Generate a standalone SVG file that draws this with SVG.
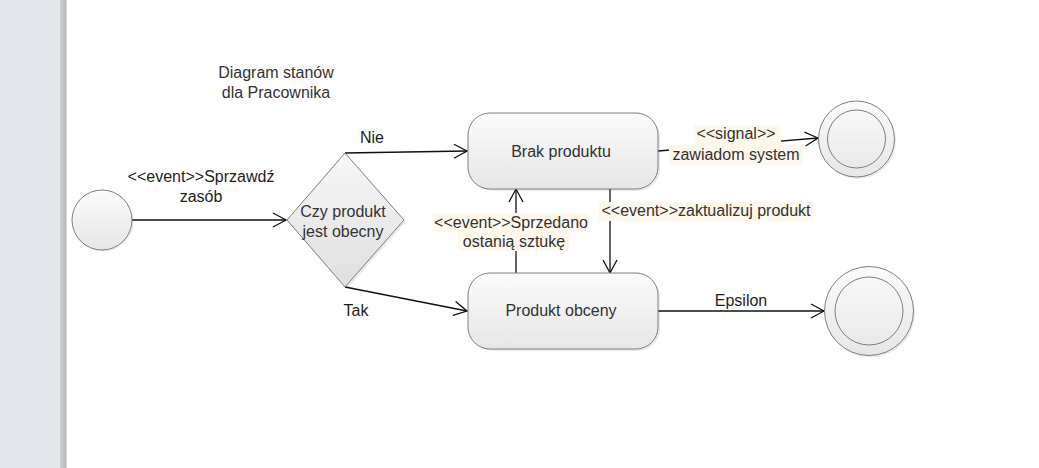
<svg xmlns="http://www.w3.org/2000/svg" width="1039" height="468" viewBox="0 0 1039 468">
<style>
  .t{font-family:"Liberation Sans",Arial,sans-serif;font-size:16px;fill:#333;text-anchor:middle}
  .el{font-family:"Liberation Sans",Arial,sans-serif;font-size:16px;fill:#1e1e1e;text-anchor:middle}
  .node{fill:url(#g);stroke:#7f7f7f;stroke-width:1}
  .shadow{fill:#000;opacity:0.08}
  .edge{fill:none;stroke:#111;stroke-width:1.3}
  .lbg{fill:#fdf7ec}
</style>
<defs>
  <linearGradient id="g" x1="0" y1="0" x2="0" y2="1">
    <stop offset="0" stop-color="#fbfbfb"/>
    <stop offset="1" stop-color="#e6e6e6"/>
  </linearGradient>
  <linearGradient id="gd" x1="0" y1="0" x2="0" y2="1">
    <stop offset="0" stop-color="#f7f7f7"/>
    <stop offset="1" stop-color="#dedede"/>
  </linearGradient>
  <linearGradient id="side" x1="0" y1="0" x2="1" y2="0">
    <stop offset="0" stop-color="#cfd0d4"/>
    <stop offset="0.8" stop-color="#b9babe"/>
    <stop offset="1" stop-color="#e8e8ea"/>
  </linearGradient>
  <marker id="arr" markerWidth="16" markerHeight="16" refX="14" refY="8" orient="auto" markerUnits="userSpaceOnUse">
    <path d="M1,1 L14,8 L1,15" fill="none" stroke="#111" stroke-width="1.3"/>
  </marker>
</defs>
<rect width="1039" height="468" fill="#fff"/>
<rect x="0" y="0" width="60" height="468" fill="#e6e7ec"/>
<rect x="60" y="0" width="7" height="468" fill="url(#side)"/>

<text class="t" x="276" y="78">Diagram stanów</text>
<text class="t" x="276" y="98">dla Pracownika</text>

<g id="connectors">
  <line class="edge" x1="132" y1="220" x2="286" y2="220" marker-end="url(#arr)"/>
  <line class="edge" x1="345" y1="153" x2="467" y2="151" marker-end="url(#arr)"/>
  <line class="edge" x1="345" y1="287" x2="467" y2="311" marker-end="url(#arr)"/>
  <line class="edge" x1="516" y1="273" x2="516" y2="189" marker-end="url(#arr)"/>
  <line class="edge" x1="610" y1="189" x2="610" y2="273" marker-end="url(#arr)"/>
  <line class="edge" x1="658" y1="151" x2="818" y2="138" marker-end="url(#arr)"/>
  <line class="edge" x1="658" y1="311" x2="824" y2="311" marker-end="url(#arr)"/>

  <text class="el" x="201" y="182">&lt;&lt;event&gt;&gt;Sprzawdź</text>
  <text class="el" x="201" y="202">zasób</text>
  <text class="el" x="372" y="143">Nie</text>
  <text class="el" x="356" y="316">Tak</text>
  <text class="el" x="741" y="306">Epsilon</text>

  <rect class="lbg" x="433" y="213" width="157" height="19"/>
  <rect class="lbg" x="458" y="232" width="111" height="19"/>
  <text class="t" x="511" y="228">&lt;&lt;event&gt;&gt;Sprzedano</text>
  <text class="t" x="514" y="247">ostanią sztukę</text>

  <rect class="lbg" x="599" y="202" width="215" height="19"/>
  <text class="t" x="706" y="216">&lt;&lt;event&gt;&gt;zaktualizuj produkt</text>

  <rect class="lbg" x="694" y="125" width="87" height="20"/>
  <rect class="lbg" x="669" y="145" width="134" height="20"/>
  <text class="t" x="736" y="139">&lt;&lt;signal&gt;&gt;</text>
  <text class="t" x="736" y="160">zawiadom system</text>
</g>

<g id="start">
  <circle class="shadow" cx="103.5" cy="221.5" r="30"/>
  <circle class="node" cx="102" cy="220" r="30"/>
</g>

<g id="decision">
  <polygon class="shadow" points="289,222 347,155 406,222 347,289"/>
  <polygon points="287,220 345,153 404,220 345,287" fill="url(#gd)" stroke="#7f7f7f"/>
  <text class="t" x="343" y="217">Czy produkt</text>
  <text class="t" x="343" y="237">jest obecny</text>
</g>

<g id="brak">
  <rect class="shadow" x="470" y="115" width="190" height="76" rx="22"/>
  <rect class="node" x="468" y="113" width="190" height="76" rx="22"/>
  <text class="t" x="561" y="157">Brak produktu</text>
</g>

<g id="obecny">
  <rect class="shadow" x="470" y="275" width="190" height="76" rx="22"/>
  <rect class="node" x="468" y="273" width="190" height="76" rx="22"/>
  <text class="t" x="561" y="316">Produkt obceny</text>
</g>

<g id="final1">
  <circle class="shadow" cx="858" cy="141" r="38"/>
  <circle class="node" cx="856.5" cy="139" r="38"/>
  <circle cx="856.5" cy="139" r="29" fill="none" stroke="#7f7f7f"/>
</g>

<g id="final2">
  <circle class="shadow" cx="870.5" cy="313" r="44.5"/>
  <circle class="node" cx="869" cy="311" r="44.5"/>
  <circle cx="869" cy="311" r="34" fill="none" stroke="#7f7f7f"/>
</g>
</svg>
